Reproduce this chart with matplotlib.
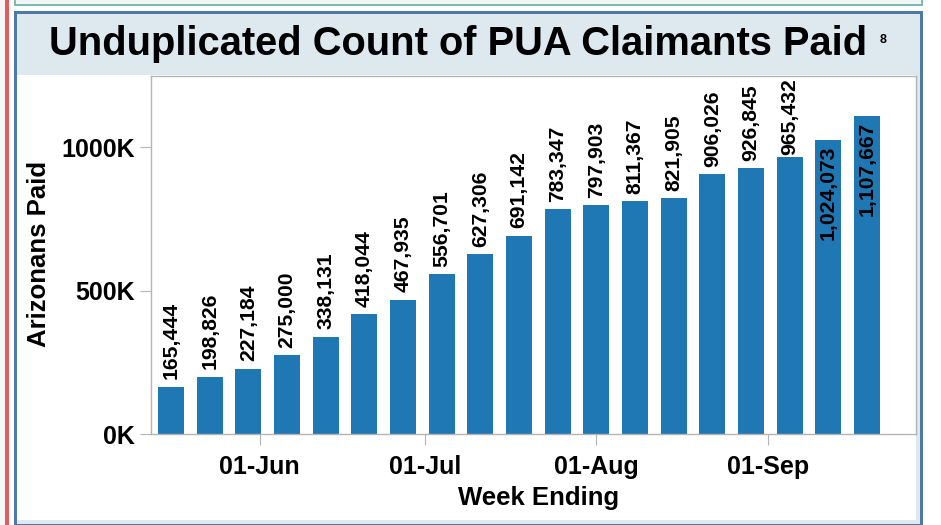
import pandas as pd
import matplotlib
matplotlib.use("Agg")
import matplotlib.pyplot as plt
import matplotlib.dates as mdates
from matplotlib.patches import Rectangle
from matplotlib.ticker import FuncFormatter

# data
week_ending = ["2020-05-16", "2020-05-23", "2020-05-30", "2020-06-06", "2020-06-13",
               "2020-06-20", "2020-06-27", "2020-07-04", "2020-07-11", "2020-07-18",
               "2020-07-25", "2020-08-01", "2020-08-08", "2020-08-15", "2020-08-22",
               "2020-08-29", "2020-09-05", "2020-09-12", "2020-09-19"]
claimants_paid = [165444, 198826, 227184, 275000, 338131, 418044, 467935, 556701,
                  627306, 691142, 783347, 797903, 811367, 821905, 906026, 926845,
                  965432, 1024073, 1107667]
x_ticks = ["2020-06-01", "2020-07-01", "2020-08-01", "2020-09-01"]
y_ticks = [0, 500000, 1000000]

title = "Unduplicated Count of PUA Claimants Paid"
footnote = "8"

W, H = 941, 525
plt.rcParams["font.family"] = ["Liberation Sans", "DejaVu Sans"]
plt.rcParams["font.weight"] = "bold"

fig = plt.figure(figsize=(W / 100, H / 100), dpi=100, facecolor="white")


def box(x, y, w, h, color, z):
    # pixel box, top-left origin
    fig.add_artist(Rectangle((x / W, 1 - (y + h) / H), w / W, h / H,
                             transform=fig.transFigure, facecolor=color,
                             edgecolor="none", zorder=z))


# slide frame
box(0, 0, 5, H, "#f6f6f6", -20)
box(5, 0, 3.5, H, "#e05c5c", -19)
box(14, -2, 909, 8, "#7dbab2", -18)
box(16, -2, 905, 6, "#f1f6f5", -17)
box(14, 11, 909, 516, "#4e79a7", -16)
box(17, 14, 903, 510, "#dde8ef", -15)
box(17, 75, 899, 445, "white", -14)

fig.text(458 / W, 1 - 55 / H, title, ha="center", va="baseline",
         fontsize=28.7, fontweight="bold")
fig.text(880 / W, 1 - 43 / H, footnote, ha="left", va="baseline",
         fontsize=9, fontweight="bold")

ax = fig.add_axes([150.7 / W, 1 - 434 / H, 765 / W, 358.3 / H])
ax.set_facecolor("white")

dates = pd.to_datetime(week_ending)
ax.bar(dates, claimants_paid, width=4.7, color="#1f77b4", zorder=2)

ax.set_xlim(dates[0] - pd.Timedelta(days=3.7), dates[-1] + pd.Timedelta(days=8.8))
ax.set_ylim(0, 1250000)

ax.set_xticks(pd.to_datetime(x_ticks))
ax.xaxis.set_major_formatter(mdates.DateFormatter("%d-%b"))
ax.set_yticks(y_ticks)
ax.yaxis.set_major_formatter(FuncFormatter(lambda v, p: f"{v / 1000:.0f}K"))

for s in ax.spines.values():
    s.set_color("#b4b4b4")
    s.set_linewidth(1)
ax.tick_params(axis="both", length=7.7, width=0.8, color="#b4b4b4", labelsize=18)
ax.tick_params(axis="y", pad=3.6)
ax.tick_params(axis="x", pad=7.5)
for lab in ax.get_xticklabels() + ax.get_yticklabels():
    lab.set_fontweight("bold")

ax.set_ylabel("Arizonans Paid", fontsize=18.5, fontweight="bold", va="center")
ax.yaxis.set_label_coords(-0.146, 0.502)
ax.set_xlabel("Week Ending", fontsize=18.5, fontweight="bold", va="center")
ax.xaxis.set_label_coords(0.507, -0.18)

# value labels above bars, pushed down / inside when they don't fit
gap = 5.5
labels = []
for d, v in zip(dates, claimants_paid):
    t = ax.annotate(f"{v:,}", (d, v), xytext=(0, gap), textcoords="offset points",
                    rotation=90, ha="center", va="bottom", fontsize=15.2,
                    fontweight="bold", zorder=3)
    labels.append(t)

fig.canvas.draw()
r = fig.canvas.get_renderer()
top = ax.get_window_extent(r).y1
for t in labels:
    bb = t.get_window_extent(r)
    bar_top = bb.y0 - gap * 100 / 72
    room = top - bar_top - bb.height - 3
    if room >= gap * 100 / 72:
        continue
    elif room >= 1:
        t.xyann = (0, room * 72 / 100)
    else:
        t.xyann = (0, -4)
        t.set_va("top")

fig.savefig("out.png", dpi=100, facecolor="white")
